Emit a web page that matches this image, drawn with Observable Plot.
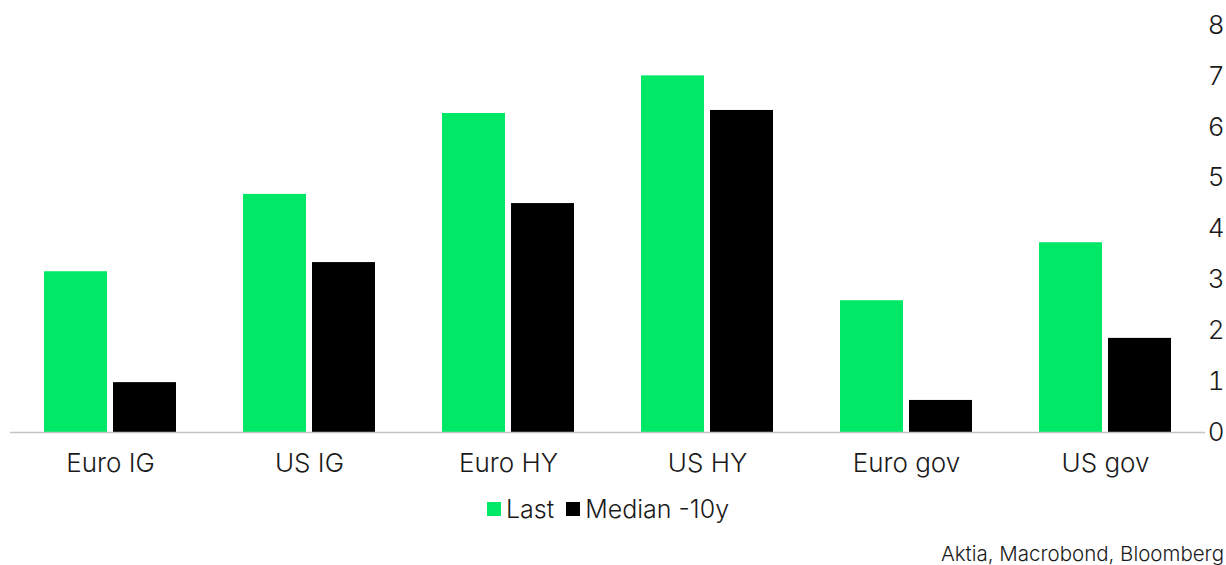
<!DOCTYPE html>
<html>
<head>
<meta charset="utf-8">
<script src="https://cdn.jsdelivr.net/npm/d3@7"></script>
<script src="https://cdn.jsdelivr.net/npm/@observablehq/plot@0.6"></script>
<style>
  html, body { margin: 0; padding: 0; background: #fff; overflow: hidden; }
  body { width: 1226px; height: 565px; font-family: Inter, "Noto Sans", sans-serif; font-weight: 300; color: #1a1a1a; }
  #legend { display: flex; justify-content: center; align-items: center; gap: 12px; font-size: 25px; height: 48px; margin-left: -10px; }
  .item { display: flex; align-items: center; gap: 5px; }
  .sw { width: 14px; height: 14px; display: inline-block; }
  #caption { text-align: right; font-size: 20.5px; margin-right: 2px; margin-top: 8px; white-space: nowrap; }
</style>
</head>
<body>
<div id="chart"></div>
<div id="legend"></div>
<div id="caption">Aktia, Macrobond, Bloomberg</div>
<script>
const categories = ["Euro IG", "US IG", "Euro HY", "US HY", "Euro gov", "US gov"];
const lastValues = [3.16, 4.68, 6.27, 7.01, 2.59, 3.73];
const medianValues = [0.98, 3.34, 4.50, 6.33, 0.63, 1.85];
const seriesNames = ["Last", "Median -10y"];
const seriesColors = ["#00E865", "#000000"];
const yTicks = [0, 1, 2, 3, 4, 5, 6, 7, 8];

const data = categories.map((c, i) => ({category: c, last: lastValues[i], median: medianValues[i]}));

const chart = Plot.plot({
  width: 1226,
  height: 485,
  marginLeft: 10,
  marginRight: 21,
  marginTop: 25,
  marginBottom: 53,
  style: {fontFamily: "Inter, 'Noto Sans', sans-serif", fontWeight: 300, fontSize: "26px", color: "#1a1a1a", background: "#fff"},
  x: {domain: categories, paddingInner: 0.337, paddingOuter: 0.168, label: null},
  y: {domain: [0, 8], label: null},
  marks: [
    Plot.barY(data, {x: "category", y: "last", fill: seriesColors[0], insetRight: 69}),
    Plot.barY(data, {x: "category", y: "median", fill: seriesColors[1], insetLeft: 69}),
    Plot.ruleY([0], {stroke: "#c4c4c4", strokeWidth: 1.5}),
    Plot.axisX({tickSize: 0, tickPadding: 21, fontSize: 26}),
    Plot.axisY(yTicks, {anchor: "right", tickSize: 0, tickPadding: 0, textAnchor: "end", dx: 19, fontSize: 26, tickFormat: d => String(d)})
  ]
});
document.getElementById("chart").appendChild(chart);

const legend = document.getElementById("legend");
seriesNames.forEach((name, i) => {
  const it = document.createElement("span");
  it.className = "item";
  const sw = document.createElement("span");
  sw.className = "sw";
  sw.style.background = seriesColors[i];
  it.appendChild(sw);
  it.appendChild(document.createTextNode(name));
  legend.appendChild(it);
});
</script>
</body>
</html>
